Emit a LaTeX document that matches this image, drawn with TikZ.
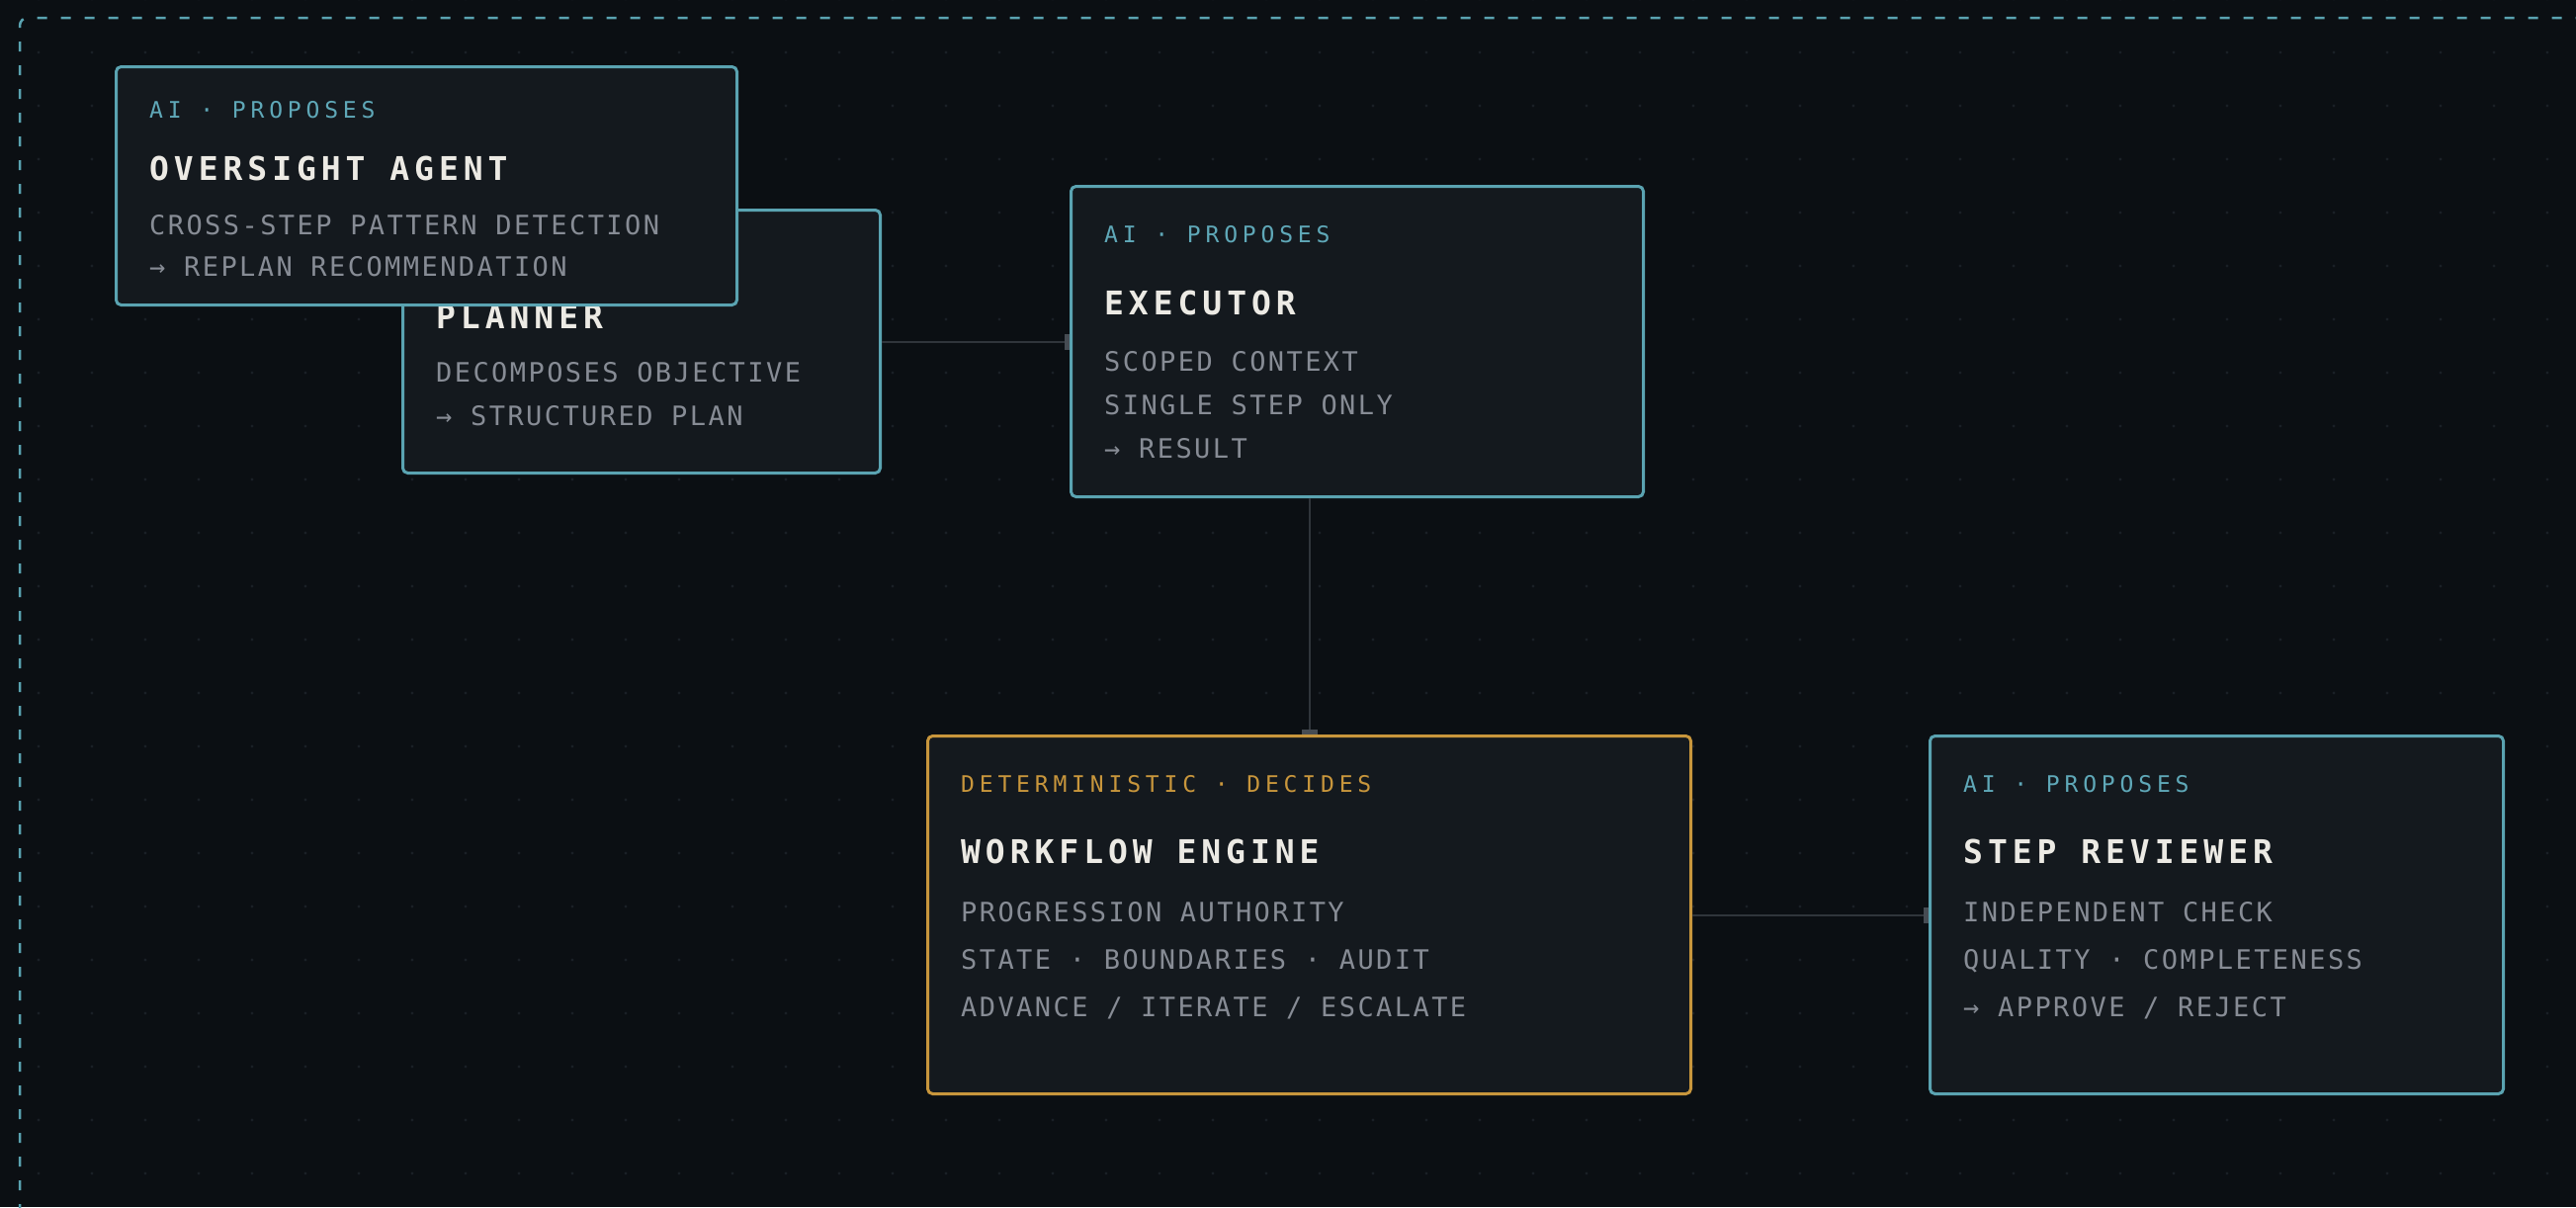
\documentclass[tikz,border=0pt]{standalone}
\usepackage{fontspec}
\usetikzlibrary{arrows.meta}
\newfontfamily\fLbl[LetterSpace=21]{DejaVu Sans Mono}
\newfontfamily\fBody[LetterSpace=9]{DejaVu Sans Mono}
\newfontfamily\fTitle[LetterSpace=15]{DejaVu Sans Mono}
\definecolor{bgc}{HTML}{0B0F13}
\definecolor{boxfill}{HTML}{14191E}
\definecolor{tealc}{HTML}{5AA3B1}
\definecolor{teallbl}{HTML}{5FA8B8}
\definecolor{amberc}{HTML}{C8963C}
\definecolor{titlec}{HTML}{ECEAE4}
\definecolor{bodyc}{HTML}{878C95}
\definecolor{dotc}{HTML}{1A2026}
\definecolor{linec}{HTML}{30353B}
\definecolor{tipc}{HTML}{464C53}
\tikzset{
  card/.style={draw, line width=3pt, rounded corners=5pt, fill=boxfill, anchor=north west, inner sep=0pt},
  cardai/.style={card, draw=tealc},
  carddet/.style={card, draw=amberc},
  lblai/.style={anchor=base west, inner sep=0pt, text=teallbl, font=\fLbl\fontsize{23}{23}\selectfont},
  lbldet/.style={lblai, text=amberc},
  ttl/.style={anchor=base west, inner sep=0pt, text=titlec, font=\fTitle\bfseries\fontsize{33}{33}\selectfont},
  bdy/.style={anchor=base west, inner sep=0pt, text=bodyc, font=\fBody\fontsize{27}{27}\selectfont},
  conn/.style={draw=linec, line width=2pt, -{Rectangle[length=5pt,width=16pt,color=tipc]}}
}
\begin{document}
\begin{tikzpicture}[x=1pt,y=-1pt]
\useasboundingbox (0,0) rectangle (2606,1221);
\fill[bgc] (0,0) rectangle (2606,1221);
\begin{scope}
\clip (0,0) rectangle (2606,1221);
\foreach \i in {0,...,48} {
  \foreach \j in {0,...,22} {
    \fill[dotc] (39+54*\i, -1+54*\j) circle (1.6pt);
  }
}
\draw[tealc, line width=2.5pt, dash pattern=on 10pt off 14pt, rounded corners=8pt] (20,1300) -- (20,18) -- (2700,18);
\end{scope}

% Planner
\node[cardai, minimum width=483pt, minimum height=266pt] (planner) at (406,211) {};
\node[ttl] (planT) at (441,332) {PLANNER};
\node[bdy] (planB1) at (441,386) {DECOMPOSES OBJECTIVE};
\node[bdy] (planB2) at (441,430) {→ STRUCTURED PLAN};

% Oversight
\node[cardai, minimum width=628pt, minimum height=241pt] (oversight) at (116,66) {};
\node[lblai] (ovL) at (151,119) {AI · PROPOSES};
\node[ttl] (ovT) at (151,182) {OVERSIGHT AGENT};
\node[bdy] (ovB1) at (151,237) {CROSS-STEP PATTERN DETECTION};
\node[bdy] (ovB2) at (151,279) {→ REPLAN RECOMMENDATION};

% Executor
\node[cardai, minimum width=579pt, minimum height=314pt] (executor) at (1082,187) {};
\node[lblai] (exL) at (1117,245) {AI · PROPOSES};
\node[ttl] (exT) at (1117,318) {EXECUTOR};
\node[bdy] (exB1) at (1117,375) {SCOPED CONTEXT};
\node[bdy] (exB2) at (1117,419) {SINGLE STEP ONLY};
\node[bdy] (exB3) at (1117,463) {→ RESULT};

% Workflow engine
\node[carddet, minimum width=772pt, minimum height=362pt] (workflow) at (937,743) {};
\node[lbldet] (wfL) at (972,801) {DETERMINISTIC · DECIDES};
\node[ttl] (wfT) at (972,873) {WORKFLOW ENGINE};
\node[bdy] (wfB1) at (972,932) {PROGRESSION AUTHORITY};
\node[bdy] (wfB2) at (972,980) {STATE · BOUNDARIES · AUDIT};
\node[bdy] (wfB3) at (972,1028) {ADVANCE / ITERATE / ESCALATE};

% Step reviewer
\node[cardai, minimum width=580pt, minimum height=362pt] (reviewer) at (1951,743) {};
\node[lblai] (rvL) at (1986,801) {AI · PROPOSES};
\node[ttl] (rvT) at (1986,873) {STEP REVIEWER};
\node[bdy] (rvB1) at (1986,932) {INDEPENDENT CHECK};
\node[bdy] (rvB2) at (1986,980) {QUALITY · COMPLETENESS};
\node[bdy] (rvB3) at (1986,1028) {→ APPROVE / REJECT};

% Connectors
\draw[conn] (planner.east) -- (planner.east -| executor.west);
\draw[conn] (executor.south -| workflow.north) -- (workflow.north);
\draw[conn] (workflow.east) -- (reviewer.west);
\end{tikzpicture}
\end{document}
